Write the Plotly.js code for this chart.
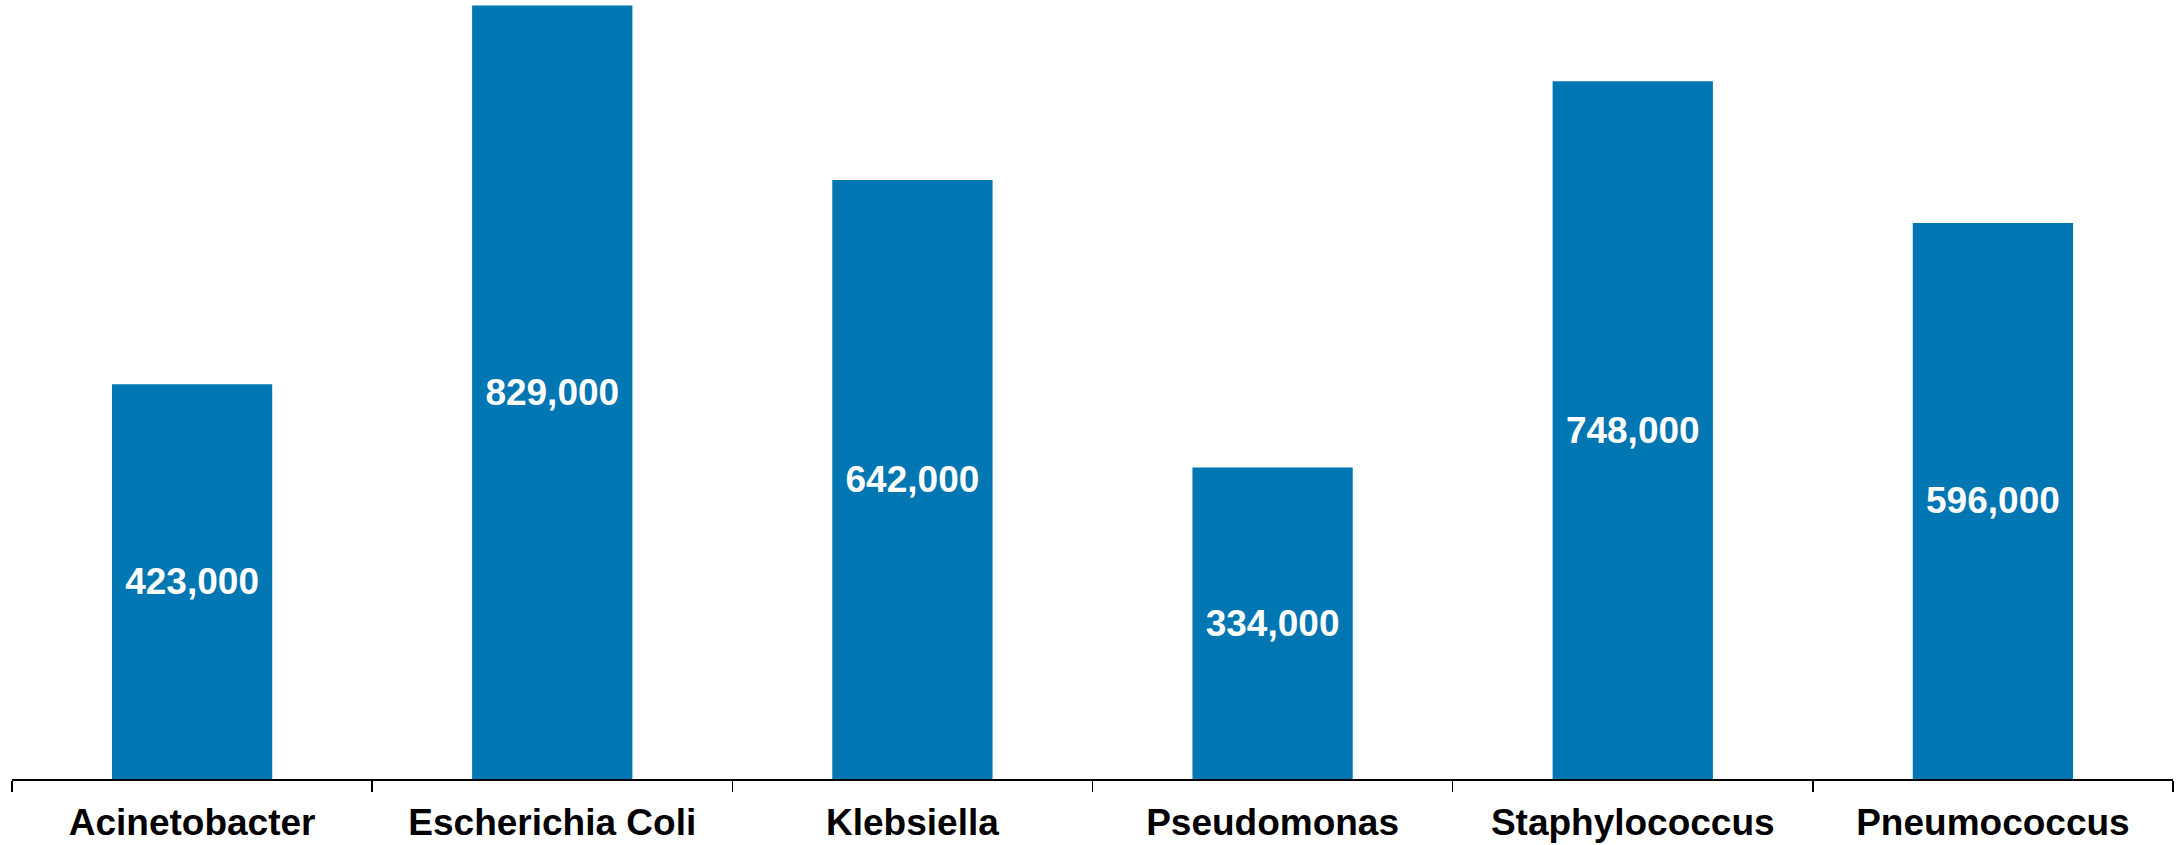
<!DOCTYPE html>
<html>
<head>
<meta charset="utf-8">
<script src="https://cdn.plot.ly/plotly-3.0.1.min.js"></script>
<style>html,body{margin:0;padding:0;background:#fff;}#chart{width:2176px;height:845px;}</style>
</head>
<body>
<div id="chart"></div>
<script>
const categories = ["Acinetobacter", "Escherichia Coli", "Klebsiella", "Pseudomonas", "Staphylococcus", "Pneumococcus"];
const deaths = [423000, 829000, 642000, 334000, 748000, 596000];

const trace = {
  type: 'bar',
  x: categories,
  y: deaths,
  marker: {color: '#0076B3'},
  texttemplate: '%{y:,}',
  textposition: 'inside',
  insidetextanchor: 'middle',
  textangle: 0,
  textfont: {family: 'Liberation Sans, Arial, sans-serif', size: 37, color: '#ffffff', weight: 'bold'},
  hoverinfo: 'none'
};

const layout = {
  width: 2176, height: 845,
  margin: {l: 12, r: 3, t: 0, b: 66},
  paper_bgcolor: '#ffffff', plot_bgcolor: '#ffffff',
  showlegend: false,
  bargap: 0.555,
  xaxis: {
    showline: true, linecolor: '#000000', linewidth: 1.5,
    ticks: 'outside', ticklen: 11, tickcolor: '#000000', tickwidth: 1.5,
    tickson: 'boundaries',
    ticklabelstandoff: 10,
    showgrid: false,
    tickfont: {family: 'Liberation Sans, Arial, sans-serif', size: 37, color: '#000000', weight: 'bold'}
  },
  yaxis: {
    visible: false, range: [0, 835000], showgrid: false, zeroline: false
  }
};

Plotly.newPlot('chart', [trace], layout, {staticPlot: true});
</script>
</body>
</html>
